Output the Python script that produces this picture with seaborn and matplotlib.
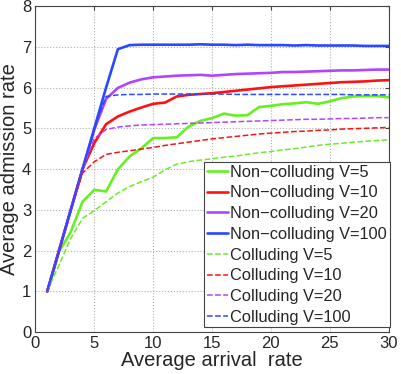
import matplotlib
matplotlib.use("Agg")
import matplotlib.pyplot as plt
import seaborn as sns
import numpy as np
import pandas as pd

arrival = list(range(1, 31))

nc_v5 = [1, 1.97, 2.46, 3.2, 3.49, 3.45, 3.99, 4.31, 4.51, 4.76, 4.76, 4.78, 5.04, 5.18,
         5.25, 5.36, 5.31, 5.32, 5.52, 5.55, 5.59, 5.61, 5.64, 5.6, 5.66, 5.74, 5.78, 5.79, 5.79, 5.76]
nc_v10 = [1, 2, 3, 4, 4.64, 5.1, 5.29, 5.41, 5.51, 5.6, 5.63, 5.78, 5.82, 5.84,
          5.86, 5.89, 5.92, 5.95, 5.98, 6.01, 6.03, 6.05, 6.07, 6.09, 6.11, 6.13, 6.14, 6.15, 6.17, 6.18]
nc_v20 = [1, 2, 3, 4, 4.97, 5.72, 5.99, 6.12, 6.2, 6.25, 6.27, 6.29, 6.3, 6.31,
          6.29, 6.31, 6.33, 6.34, 6.35, 6.36, 6.38, 6.38, 6.39, 6.4, 6.41, 6.42, 6.42, 6.43, 6.44, 6.44]
nc_v100 = [1, 2, 3, 4, 5, 6, 6.94, 7.04, 7.05, 7.05, 7.05, 7.05, 7.05, 7.06,
           7.05, 7.05, 7.04, 7.05, 7.04, 7.04, 7.04, 7.03, 7.04, 7.03, 7.03, 7.03, 7.03, 7.02, 7.02, 7.02]
c_v5 = [1, 1.65, 2.3, 2.79, 2.98, 3.2, 3.41, 3.57, 3.69, 3.8, 3.98, 4.12, 4.18, 4.22,
        4.25, 4.29, 4.32, 4.36, 4.4, 4.43, 4.47, 4.5, 4.54, 4.58, 4.61, 4.63, 4.66, 4.68, 4.7, 4.72]
c_v10 = [1, 2, 3, 3.9, 4.18, 4.36, 4.41, 4.45, 4.49, 4.53, 4.58, 4.62, 4.66, 4.7,
         4.74, 4.77, 4.8, 4.83, 4.86, 4.88, 4.9, 4.92, 4.93, 4.95, 4.96, 4.98, 4.99, 5.0, 5.01, 5.02]
c_v20 = [1, 2, 3, 4, 4.75, 4.97, 5.03, 5.06, 5.08, 5.09, 5.1, 5.11, 5.12, 5.13,
         5.14, 5.15, 5.16, 5.17, 5.18, 5.19, 5.2, 5.21, 5.22, 5.22, 5.23, 5.24, 5.24, 5.25, 5.26, 5.26]
c_v100 = [1, 2, 3, 4, 5, 5.78, 5.82, 5.83, 5.83, 5.84, 5.84, 5.84, 5.84, 5.84,
          5.84, 5.84, 5.83, 5.83, 5.83, 5.83, 5.83, 5.83, 5.83, 5.83, 5.83, 5.83, 5.82, 5.82, 5.82, 5.82]

labels = ["Non−colluding V=5", "Non−colluding V=10", "Non−colluding V=20", "Non−colluding V=100",
          "Colluding V=5", "Colluding V=10", "Colluding V=20", "Colluding V=100"]
series = [nc_v5, nc_v10, nc_v20, nc_v100, c_v5, c_v10, c_v20, c_v100]
xticks = [0, 5, 10, 15, 20, 25, 30]
yticks = [0, 1, 2, 3, 4, 5, 6, 7, 8]

colors = ["#66f022", "#ff1111", "#b044ff", "#2a48ff"] * 2
styles = ["-"] * 4 + ["--"] * 4
widths = [1.9] * 4 + [1.1] * 4

sns.set_style("white")
plt.rcParams['font.family'] = ['Liberation Sans', 'DejaVu Sans']

fig = plt.figure(figsize=(4.01, 3.74), dpi=100)
ax = fig.add_axes([0.0885, 0.112, 0.8805, 0.872])

for lab, vals, c, ls, lw in zip(labels, series, colors, styles, widths):
    df = pd.DataFrame({"x": arrival, "y": vals})
    sns.lineplot(data=df, x="x", y="y", ax=ax, color=c, linestyle=ls, linewidth=lw,
                 label=lab, dashes=False if ls == "-" else (3, 2.5))

ax.set_xlim(0, 30)
ax.set_ylim(0, 8)
ax.set_xticks(xticks)
ax.set_yticks(yticks)
ax.set_xticklabels([str(t) for t in xticks], fontsize=12)
ax.set_yticklabels([str(t) for t in yticks], fontsize=12)
ax.grid(True, linestyle=":", color="#b0b0b0", linewidth=0.8)
ax.tick_params(direction="in", length=3, top=True, right=True, color="#444444", pad=3)
for s in ax.spines.values():
    s.set_color("#444444")
    s.set_linewidth(0.8)
ax.set_xlabel("Average arrival  rate", fontsize=14.5, labelpad=0)
ax.set_ylabel("Average admission rate", fontsize=14.5, labelpad=2)

leg = ax.legend(loc="lower right", bbox_to_anchor=(1.003, 0.015), fontsize=11.8, frameon=True,
                fancybox=False, edgecolor="#444444", framealpha=1, handlelength=1.3,
                handletextpad=0.15, labelspacing=0.35, borderpad=0.15, borderaxespad=0)
leg.get_frame().set_linewidth(0.8)

fig.savefig("out.png", dpi=100)
